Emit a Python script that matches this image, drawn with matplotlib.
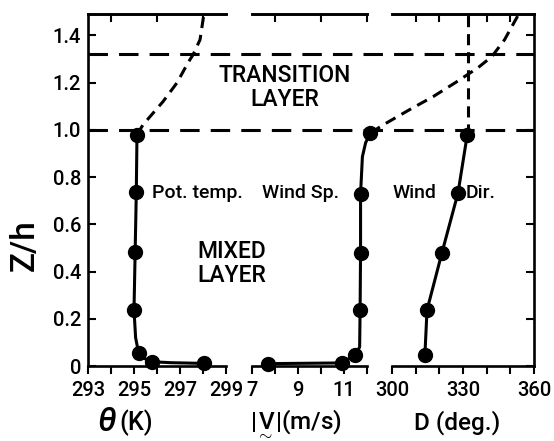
import matplotlib
matplotlib.use("Agg")
import matplotlib.pyplot as plt
from matplotlib.transforms import blended_transform_factory

plt.rcParams['font.family'] = ['Roboto', 'DejaVu Sans']
plt.rcParams['font.weight'] = 500
plt.rcParams['mathtext.fontset'] = 'custom'
plt.rcParams['mathtext.rm'] = 'Roboto:medium'
plt.rcParams['mathtext.it'] = 'Roboto:italic:medium'
plt.rcParams['mathtext.bf'] = 'Roboto:bold'
plt.rcParams['lines.scale_dashes'] = False

# Potential temperature profile (K) against Z/h
theta_z = [0.011, 0.018, 0.055, 0.237, 0.483, 0.735, 0.979]
theta_k = [298.04, 295.78, 295.2, 295.0, 295.05, 295.1, 295.13]
theta_line_z = [0.011, 0.014, 0.018, 0.035, 0.055, 0.12, 0.237, 0.483, 0.735, 0.979]
theta_line_k = [298.04, 296.6, 295.78, 295.38, 295.2, 295.07, 295.0, 295.05, 295.1, 295.13]
theta_dash_z = [0.979, 1.021, 1.119, 1.199, 1.284, 1.318, 1.381, 1.49]
theta_dash_k = [295.13, 295.39, 296.26, 296.87, 297.35, 297.57, 297.87, 298.04]

# Wind speed profile (m/s)
speed_z = [0.010, 0.013, 0.047, 0.237, 0.479, 0.728, 0.987]
speed_v = [7.68, 10.9, 11.47, 11.7, 11.72, 11.72, 12.15]
speed_line_z = [0.010, 0.013, 0.047, 0.08, 0.237, 0.479, 0.728, 0.886, 0.945, 0.987]
speed_line_v = [7.68, 10.9, 11.47, 11.68, 11.7, 11.72, 11.72, 11.8, 11.94, 12.15]
speed_dash_z = [0.987, 1.03, 1.085, 1.14, 1.2, 1.263, 1.31, 1.381, 1.49]
speed_dash_v = [12.15, 12.87, 13.85, 14.87, 15.85, 16.83, 17.43, 17.98, 18.6]

# Wind direction profile (deg)
dir_z = [0.047, 0.237, 0.479, 0.733, 0.979]
dir_d = [313.9, 314.8, 321.1, 327.9, 331.8]
dir_dash_z = [0.979, 1.49]
dir_dash_d = [332.0, 332.0]

# Layer boundaries (Z/h)
boundaries = [1.0, 1.32]

yticks = [0, 0.2, 0.4, 0.6, 0.8, 1.0, 1.2, 1.4]
ytick_labels = ['0', '0.2', '0.4', '0.6', '0.8', '1.0', '1.2', '1.4']

W, H = 554, 441
fig = plt.figure(figsize=(W / 100, H / 100), dpi=100)


def px_axes(x0, x1, y0=14, y1=366):
    return fig.add_axes([x0 / W, 1 - y1 / H, (x1 - x0) / W, (y1 - y0) / H])


ax1 = px_axes(88, 226)
ax2 = px_axes(252, 367)
ax3 = px_axes(392, 534)

SPINE_LW = 1.9
LINE_LW = 2.2
MS = 10
FS_TICK = 14.5

for ax in (ax1, ax2, ax3):
    ax.set_ylim(0, 1.49)
    ax.set_facecolor('none')
    for s in ax.spines.values():
        s.set_linewidth(SPINE_LW)
    ax.tick_params(axis='x', which='both', direction='out', length=6,
                   width=1.5, labelsize=FS_TICK, pad=5)
    ax.tick_params(axis='y', which='both', direction='in', length=6,
                   width=1.5, labelsize=FS_TICK, pad=5)
    ax.set_yticks(yticks)

ax1.spines['right'].set_visible(False)
ax2.spines['left'].set_visible(False)
ax2.spines['right'].set_visible(False)
ax3.spines['left'].set_visible(False)

ax1.set_yticklabels(ytick_labels)
ax2.tick_params(axis='y', left=False, right=False, labelleft=False)
ax3.tick_params(axis='y', left=False, right=True, labelleft=False)

ax1.set_xlim(293, 299)
ax1.set_xticks([293, 295, 297, 299])
ax1.set_xticks(range(293, 300), minor=True)

ax2.set_xlim(7, 12)
ax2.set_xticks([7, 9, 11])
ax2.set_xticks(range(7, 13), minor=True)

ax3.set_xlim(300, 360)
ax3.set_xticks([300, 330, 360])
ax3.set_xticks(range(300, 361, 10), minor=True)

for ax in (ax1, ax2, ax3):
    # inward ticks along the top edge
    sec = ax.secondary_xaxis('top')
    sec.set_xticks(ax.get_xticks(minor=True), minor=False)
    sec.tick_params(direction='in', length=6, width=1.5, labeltop=False)
    sec.spines['top'].set_linewidth(SPINE_LW)

# Profiles
ax1.plot(theta_line_k, theta_line_z, color='black', lw=LINE_LW, clip_on=False)
ax1.plot(theta_k, theta_z, 'o', color='black', ms=MS, clip_on=False, zorder=5)
ax1.plot(theta_dash_k, theta_dash_z, color='black', lw=LINE_LW,
         dashes=(8, 5), clip_on=False)

ax2.plot(speed_line_v, speed_line_z, color='black', lw=LINE_LW, clip_on=False)
ax2.plot(speed_v, speed_z, 'o', color='black', ms=MS, clip_on=False, zorder=5)
ax2.plot(speed_dash_v, speed_dash_z, color='black', lw=LINE_LW,
         dashes=(8, 5), clip_on=False)

ax3.plot(dir_d, dir_z, color='black', lw=LINE_LW, clip_on=False)
ax3.plot(dir_d, dir_z, 'o', color='black', ms=MS, clip_on=False, zorder=5)
ax3.plot(dir_dash_d, dir_dash_z, color='black', lw=LINE_LW,
         dashes=(8, 5), clip_on=False)

# Layer boundaries spanning all three panels
tr = blended_transform_factory(fig.transFigure, ax1.transData)
for zb in boundaries:
    ax1.plot([88 / W, 534 / W], [zb, zb], color='black', lw=LINE_LW,
             dashes=(14, 8), transform=tr, clip_on=False)


def ftext(x, y, s, **kw):
    fig.text(x / W, 1 - y / H, s, ha='center', va='center', **kw)


FS_LAYER = 16.5
ftext(285, 75, 'TRANSITION', fontsize=FS_LAYER)
ftext(285, 100, 'LAYER', fontsize=FS_LAYER)
ftext(232, 252, 'MIXED', fontsize=FS_LAYER)
ftext(232, 275, 'LAYER', fontsize=FS_LAYER)

FS_LAB = 14
fig.text(152 / W, 1 - 193 / H, 'Pot. temp.', ha='left', va='center', fontsize=FS_LAB)
fig.text(262 / W, 1 - 193 / H, 'Wind Sp.', ha='left', va='center', fontsize=FS_LAB)
fig.text(393 / W, 1 - 193 / H, 'Wind', ha='left', va='center', fontsize=FS_LAB)
fig.text(466 / W, 1 - 193 / H, 'Dir.', ha='left', va='center', fontsize=FS_LAB)

# Axis titles
fig.text(25 / W, 1 - 245 / H, 'Z/h', rotation=90, ha='center', va='center',
         fontsize=24)
fig.text(97 / W, 1 - 422 / H, 'θ', ha='left', va='center', fontsize=24,
         style='italic')
fig.text(119 / W, 1 - 423 / H, '(K)', ha='left', va='center', fontsize=18)
fig.text(250 / W, 1 - 423 / H, r'$|\underset{\sim}{\mathrm{V}}|$(m/s)',
         ha='left', va='center', fontsize=17.5)
fig.text(457 / W, 1 - 423 / H, 'D (deg.)', ha='center', va='center', fontsize=17.5)

fig.savefig('out.png', dpi=100)
